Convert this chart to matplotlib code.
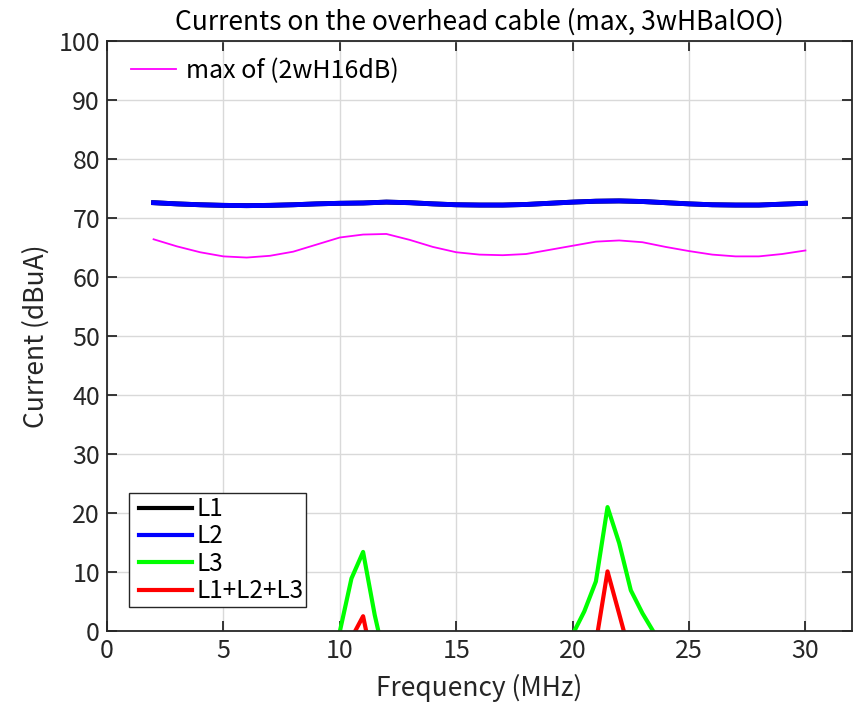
import matplotlib
matplotlib.use("Agg")
import matplotlib.pyplot as plt
from matplotlib.lines import Line2D
from matplotlib.legend_handler import HandlerLine2D

plt.rcParams['font.family'] = ['Noto Sans CJK JP', 'DejaVu Sans']

# frequency grid (MHz) for the smooth curves
freq = [2, 3, 4, 5, 6, 7, 8, 9, 10, 11, 12, 13, 14, 15, 16,
        17, 18, 19, 20, 21, 22, 23, 24, 25, 26, 27, 28, 29, 30]
l2 = [72.6, 72.4, 72.25, 72.15, 72.1, 72.15, 72.25, 72.4, 72.5, 72.55, 72.7, 72.6, 72.4, 72.25, 72.2,
      72.2, 72.3, 72.5, 72.7, 72.85, 72.9, 72.8, 72.6, 72.4, 72.25, 72.2, 72.2, 72.35, 72.5]
l1 = l2
ref_max = [66.4, 65.2, 64.2, 63.5, 63.3, 63.6, 64.3, 65.5, 66.7, 67.2, 67.3, 66.3, 65.1, 64.2, 63.8,
           63.7, 63.9, 64.6, 65.3, 66.0, 66.2, 65.9, 65.1, 64.4, 63.8, 63.5, 63.5, 63.9, 64.5]

# peaks (values below 0 are clipped by the axis)
f_l3 = [9.5, 10.0, 10.5, 11.0, 11.5, 12.0, 19.5, 20.0, 20.5, 21.0, 21.5, 22.0, 22.5, 23.0, 23.5, 24.0]
l3 = [-9, -0.1, 8.9, 13.4, 2.7, -6, -5, -0.6, 3.3, 8.4, 21.0, 14.9, 6.9, 3.0, -0.3, -6]
f_sum = [10.5, 11.0, 11.5, 21.0, 21.5, 22.0, 22.5]
l_sum = [-1.2, 2.5, -7.0, -2.0, 10.1, 2.9, -4.4]


def main():
    fig = plt.figure(figsize=(8.61, 7.08), dpi=100)
    ax = fig.add_axes([0.1243, 0.1088, 0.8652, 0.8332])

    ax.plot(freq, ref_max, color='#ff00ff', linewidth=1.3)
    ax.plot(freq, l1, color='black', linewidth=3.5)
    ax.plot(freq, l2, color='#0000ff', linewidth=3.5)
    # split the peaks so the gap between them stays empty
    ax.plot(f_l3[:6], l3[:6], color='#00ff00', linewidth=3)
    ax.plot(f_l3[6:], l3[6:], color='#00ff00', linewidth=3)
    ax.plot(f_sum[:3], l_sum[:3], color='#ff0000', linewidth=3)
    ax.plot(f_sum[3:], l_sum[3:], color='#ff0000', linewidth=3)

    ax.set_xlim(0, 32)
    ax.set_ylim(0, 100)
    ax.set_xticks(range(0, 31, 5))
    ax.set_yticks(range(0, 101, 10))
    ax.grid(True, color='#d9d9d9', linewidth=1)
    ax.set_axisbelow(True)
    ax.tick_params(direction='in', length=7, width=1.3, top=True, right=True,
                   labelsize=18, colors='#262626', labelcolor='#262626', pad=5)
    for s in ax.spines.values():
        s.set_color('#262626')
        s.set_linewidth(1.3)

    ax.set_title("Currents on the overhead cable (max, 3wHBalOO)", fontsize=19, pad=8)
    ax.set_xlabel("Frequency (MHz)", fontsize=19, labelpad=7, color='#262626')
    ax.set_ylabel("Current (dBuA)", fontsize=19, labelpad=6, color='#262626')

    h_ref = [Line2D([], [], color='#ff00ff', linewidth=1.3)]
    leg1 = ax.legend(h_ref, ["max of (2wH16dB)"], loc='upper left', frameon=False,
                     fontsize=18, handlelength=1.8, borderaxespad=0.2, handletextpad=0.4,
                     borderpad=0.4, bbox_to_anchor=(0.0124, 0.9966))
    ax.add_artist(leg1)

    hs = [Line2D([], [], color=c, linewidth=3) for c in ['black', '#0000ff', '#00ff00', '#ff0000']]
    leg2 = ax.legend(hs, ["L1", "L2", "L3", "L1+L2+L3"], loc='lower left', fontsize=17.5,
                     fancybox=False, edgecolor='#262626', framealpha=1,
                     handlelength=2.45, handletextpad=0.2, labelspacing=0.06,
                     borderpad=0.12, borderaxespad=0, bbox_to_anchor=(0.0296, 0.0401),
                     handler_map={Line2D: HandlerLine2D(xpad=0.3)})
    leg2.get_frame().set_linewidth(1)

    fig.savefig("out.png", dpi=100)


if __name__ == "__main__":
    main()
